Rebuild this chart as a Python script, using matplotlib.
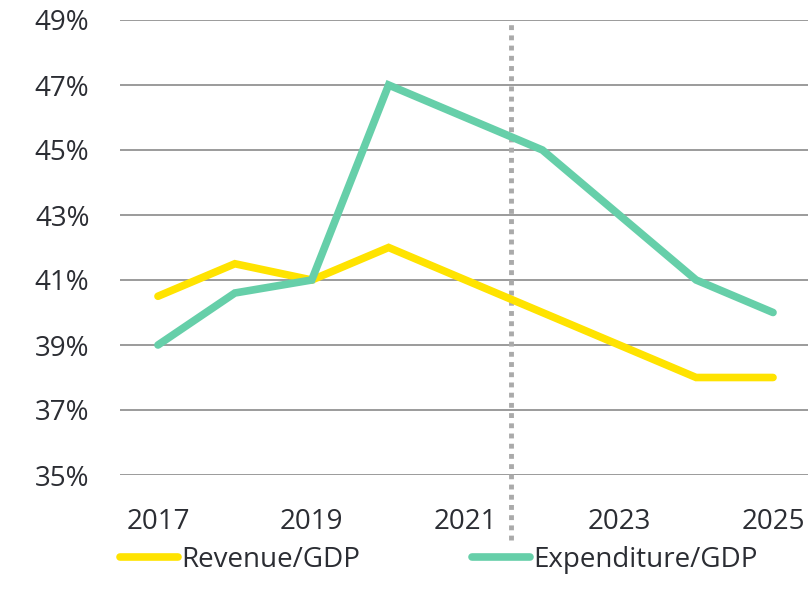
import matplotlib
matplotlib.use("Agg")
import matplotlib.pyplot as plt
from matplotlib.ticker import FuncFormatter

years = [2017, 2018, 2019, 2020, 2021, 2022, 2023, 2024, 2025]
revenue = [40.5, 41.5, 41.0, 42.0, 41.0, 40.0, 39.0, 38.0, 38.0]
expenditure = [39.0, 40.6, 41.0, 47.0, 46.0, 45.0, 43.0, 41.0, 40.0]
yticks = [35, 37, 39, 41, 43, 45, 47, 49]
xticks = [2017, 2019, 2021, 2023, 2025]
divider_year = 2021.59

plt.rcParams['font.family'] = ['Open Sans', 'DejaVu Sans']
txt = '#2b2d33'

fig = plt.figure(figsize=(8.1, 6.06), dpi=100)
ax = fig.add_axes([120/810, 1-475/606, (808-120)/810, (475-20)/606])

for y in yticks:
    ax.axhline(y, color='#8a8a8a', lw=1.2, zorder=1)

ax.axvline(divider_year, ymin=-65/455, ymax=1, color='#aaaaaa', lw=3.5,
           linestyle=(0, (1, 1.1)), clip_on=False, zorder=2)

ax.plot(years, revenue, color='#ffe300', lw=5.5, solid_capstyle='round',
        solid_joinstyle='miter', label='Revenue/GDP', zorder=3)
ax.plot(years, expenditure, color='#66cfa9', lw=5.5, solid_capstyle='round',
        solid_joinstyle='miter', label='Expenditure/GDP', zorder=4)

ax.set_xlim(2016.506, 2025.455)
ax.set_ylim(35, 49)
ax.set_yticks(yticks)
ax.set_xticks(xticks)
ax.yaxis.set_major_formatter(FuncFormatter(lambda v, p: f"{v:.0f}%"))
ax.tick_params(axis='both', length=0, labelsize=20, colors=txt)
ax.tick_params(axis='y', pad=22)
ax.tick_params(axis='x', pad=24)
for s in ax.spines.values():
    s.set_visible(False)

fig.legend(loc='center left', bbox_to_anchor=(120/810, 1-560/606), ncol=2,
           frameon=False, fontsize=20, handlelength=2.1, handletextpad=0.12,
           columnspacing=4.0, borderpad=0, borderaxespad=0, labelcolor=txt)

fig.savefig('out.png', dpi=100)
